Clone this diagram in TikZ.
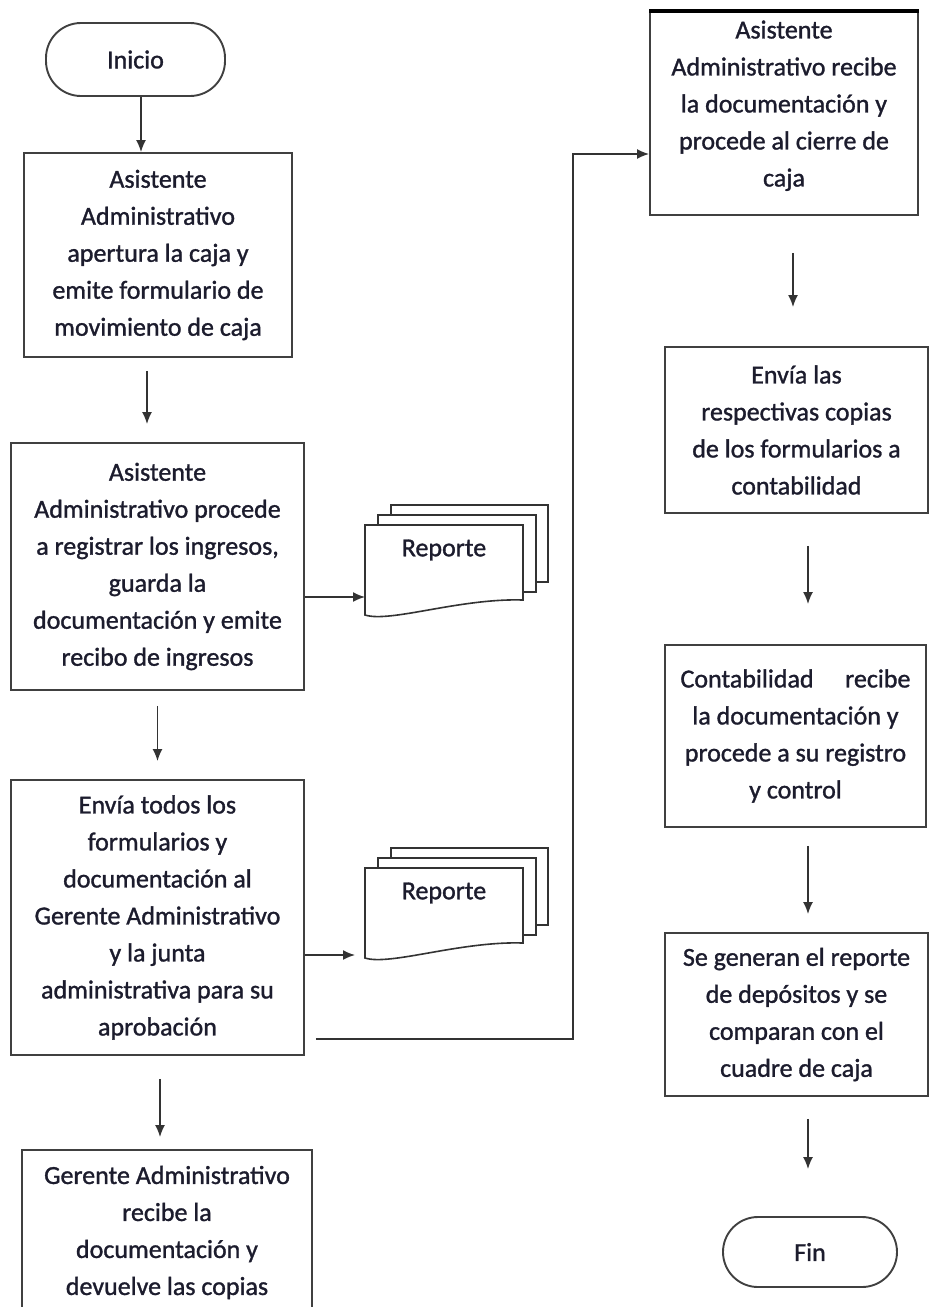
\documentclass[tikz,border=0pt]{standalone}
\usepackage{fontspec}
\setmainfont{Carlito}
\newfontfamily\flowfont{Carlito}[FakeBold=1.2]
\usetikzlibrary{arrows.meta}
\definecolor{ink}{RGB}{28,28,45}

\begin{document}
\begin{tikzpicture}[x=1pt,y=-1pt,
    box/.style={draw=black!75,line width=1.9pt,align=center,inner sep=0pt,
        text=ink,font=\flowfont\fontsize{26}{37}\selectfont},
    term/.style={box,rounded corners=35pt},
    arr/.style={draw=black!80,line width=1.6pt,-{Latex[length=12pt,width=10pt]}},
    page/.style={draw=black!80,line width=1.6pt,fill=white}]

\useasboundingbox (0,0) rectangle (935,1307);
\clip (0,0) rectangle (935,1307);

% left column
\node[term,minimum width=179,minimum height=73] (ini) at (135.5,59.5) {Inicio};

\node[box,minimum width=268,minimum height=204] (b1) at (158,255)
    {Asistente\\Administrativo\\apertura la caja y\\emite formulario de\\movimiento de caja};

\node[box,minimum width=293,minimum height=247] (b2) at (157.5,566.5)
    {Asistente\\Administrativo procede\\a registrar los ingresos,\\guarda la\\documentación y emite\\recibo de ingresos};

\node[box,minimum width=293,minimum height=275] (b3) at (157.5,917.5)
    {Envía todos los\\formularios y\\documentación al\\Gerente Administrativo\\y la junta\\administrativa para su\\aprobación};

\node[box,minimum width=290,minimum height=165] (b4) at (167,1232.5)
    {Gerente Administrativo\\recibe la\\documentación y\\devuelve las copias};

% reportes
\foreach \n/\y in {1/525,2/868} {
    \draw[page] (391,\y-20) rectangle (548,\y+57);
    \draw[page] (378,\y-10) rectangle (536,\y+67);
    \filldraw[page] (365,\y) -- (523,\y) -- (523,\y+75)
        .. controls (460,\y+73) and (390,\y+98) .. (365,\y+90) -- cycle;
    \node[inner sep=0pt,minimum width=158,minimum height=75,anchor=north west] (rep\n) at (365,\y) {};
    \node[text=ink,font=\flowfont\fontsize{26}{37}\selectfont] (t\n) at (444,\y+25) {Reporte};
}

% right column
\node[box,minimum width=268,minimum height=203] (r1) at (784,113.5)
    {Asistente\\Administrativo recibe\\la documentación y\\procede al cierre de\\caja\\[-17pt]\mbox{}};
\draw[line width=3.5pt] (r1.north west) -- (r1.north east);

\node[box,minimum width=263,minimum height=166] (r2) at (796.5,430)
    {Envía las\\respectivas copias\\de los formularios a\\contabilidad};

\node[box,minimum width=261,minimum height=182] (r3) at (795.5,736)
    {\hbox to 230pt{Contabilidad\hfill recibe}\\la documentación y\\procede a su registro\\y control};

\node[box,minimum width=263,minimum height=163] (r4) at (796.5,1014.5)
    {Se generan el reporte\\de depósitos y se\\comparan con el\\cuadre de caja};

\node[term,minimum width=174,minimum height=70] (fin) at (810,1252) {Fin};

% connectors
\draw[arr] ([xshift=5.5pt]ini.south) -- ([xshift=5.5pt]ini.south |- b1.north);
\draw[arr,shorten <=13pt,shorten >=18pt] ([xshift=-11pt]b1.south) -- ([xshift=-11pt]b1.south |- b2.north);
\draw[arr,shorten <=15pt,shorten >=18pt] (b2.south) -- (b2.south |- b3.north);
\draw[arr,shorten <=23pt,shorten >=12pt] ([xshift=2.5pt]b3.south) -- ([xshift=2.5pt]b3.south |- b4.north);

\coordinate (a1) at ([yshift=-30.5pt]b2.east);
\draw[arr] (a1) -- (a1 -| rep1.west);
\coordinate (a2) at ([yshift=-37.5pt]b3.east);
\draw[arr,shorten >=10pt] (a2) -- (a2 -| rep1.west);

\coordinate (c1) at ([xshift=11pt,yshift=17pt]b3.south east);
\coordinate (c2) at (573,0);
\coordinate (c3) at ([yshift=-40.5pt]r1.west);
\draw[arr] (c1) -- (c1 -| c2) |- (c3);

\draw[arr,shorten <=37pt,shorten >=39pt] ([xshift=9pt]r1.south) -- ([xshift=9pt]r1.south |- r2.north);
\draw[arr,shorten <=32pt,shorten >=40pt] ([xshift=11.5pt]r2.south) -- ([xshift=11.5pt]r2.south |- r3.north);
\draw[arr,shorten <=18pt,shorten >=18pt] ([xshift=12.5pt]r3.south) -- ([xshift=12.5pt]r3.south |- r4.north);
\draw[arr,shorten <=22pt,shorten >=47pt] ([xshift=11.5pt]r4.south) -- ([xshift=11.5pt]r4.south |- fin.north);

\end{tikzpicture}
\end{document}
